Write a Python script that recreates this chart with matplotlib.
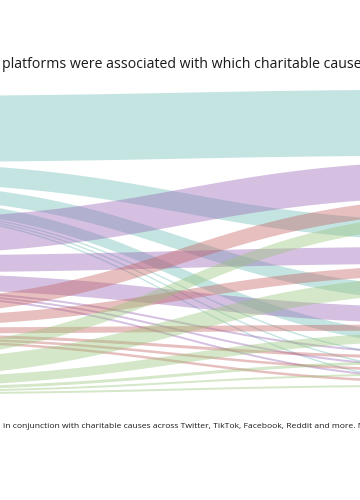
import matplotlib
matplotlib.use('Agg')
import matplotlib.pyplot as plt
import numpy as np

# ---------------- data ----------------
platforms = ['Twitter', 'TikTok', 'Facebook', 'Reddit']
causes = ['Mental health', 'Animal welfare', 'Environment', 'Health research',
          'Poverty', 'Education', 'Disaster relief']

twitter_values = [66, 20, 14, 11, 1.5, 1.5, 1.5]
tiktok_values = [0, 36, 17, 16, 2, 2, 2]
facebook_values = [0, 15, 10, 6, 3, 2.5, 2.5]
reddit_values = [0, 12, 17, 9, 3, 2, 2]

title_text = 'platforms were associated with which charitable causes'
footer_text = ('in conjunction with charitable causes across Twitter, TikTok, '
               'Facebook, Reddit and more. N')

# ---------------- style / layout ----------------
colors = {'Twitter': '#6cbcb7', 'TikTok': '#9662b4',
          'Facebook': '#c35f5f', 'Reddit': '#98c378'}
alpha = 0.4
W, H = 360, 500
left_x, right_x = -150, 510          # node columns lie outside the visible crop
left_top, right_top = 96, 89.5
left_pad, right_pad = 8, 4
scale = 1.0                           # px per unit
target_stack_order = ['TikTok', 'Facebook', 'Reddit', 'Twitter']
font = ['Open Sans', 'DejaVu Sans']

values = np.array([twitter_values, tiktok_values, facebook_values, reddit_values], float)

fig = plt.figure(figsize=(W / 100, H / 100), dpi=100)
ax = fig.add_axes([0, 0, 1, 1])
ax.set_xlim(0, W)
ax.set_ylim(H, 0)
ax.axis('off')

# left node positions
src_tot = values.sum(axis=1) * scale
src_y = []
y = left_top
for v in src_tot:
    src_y.append(y)
    y += v + left_pad
# right node positions
tgt_tot = values.sum(axis=0) * scale
tgt_y = []
y = right_top
for v in tgt_tot:
    tgt_y.append(y)
    y += v + right_pad

# offsets of each link at source (ordered by target) and at target (custom order)
src_off = {}
for i in range(len(platforms)):
    y = src_y[i]
    for j in range(len(causes)):
        src_off[(i, j)] = y
        y += values[i, j] * scale
tgt_off = {}
for j in range(len(causes)):
    y = tgt_y[j]
    for name in target_stack_order:
        i = platforms.index(name)
        tgt_off[(i, j)] = y
        y += values[i, j] * scale

t = np.linspace(0, 1, 400)
xs = left_x + (right_x - left_x) * (1.5 * t - 1.5 * t ** 2 + t ** 3)
ss = 3 * t ** 2 - 2 * t ** 3

for i, p in enumerate(platforms):
    for j in range(len(causes)):
        w = values[i, j] * scale
        if w <= 0:
            continue
        y0, y1 = src_off[(i, j)], tgt_off[(i, j)]
        top = y0 + (y1 - y0) * ss
        ax.fill_between(xs, top, top + w, color=colors[p], alpha=alpha,
                        linewidth=0)

# ---------------- texts (fitted to measured widths) ----------------
def fitted_text(x_px, base_px, s, measure, width_px, size):
    tx = fig.text(x_px / W, 1 - base_px / H, s, fontsize=size,
                  family=font, color='#1a1a1a',
                  ha='left', va='baseline')
    probe = fig.text(0, 0, measure, fontsize=size, family=font)
    fig.canvas.draw()
    wid = probe.get_window_extent().width
    probe.remove()
    tx.set_fontsize(size * width_px / wid)
    return tx

fitted_text(2, 68.5, title_text,
            'platforms were associated with which charitable cause', 358, 10)
fitted_text(3, 427.5, footer_text, footer_text, 358, 6)

fig.savefig('out.png', dpi=100)
